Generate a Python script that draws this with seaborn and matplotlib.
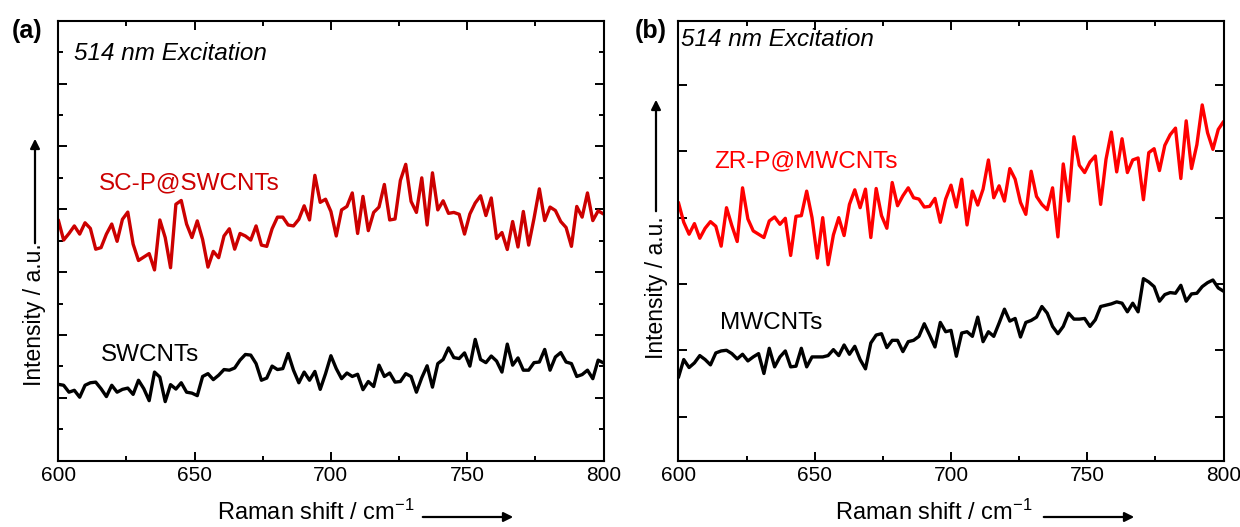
import numpy as np
import pandas as pd
import matplotlib
matplotlib.use("Agg")
import matplotlib.pyplot as plt
import seaborn as sns
from matplotlib.ticker import MultipleLocator

# ---------------- data (intensity in arbitrary tick units) ----------------
sc_p_swcnts = [7.66, 7.02, 7.23, 7.47, 7.21, 7.57, 7.39, 6.73, 6.78, 7.21, 7.53, 6.98, 7.68, 7.91,
               6.89, 6.37, 6.48, 6.59, 6.07, 7.66, 7.10, 6.14, 8.16, 8.28, 7.53, 7.10, 7.63, 7.04,
               6.16, 6.66, 6.46, 7.15, 7.38, 6.73, 7.23, 7.15, 7.02, 7.47, 6.86, 6.82, 7.38, 7.75,
               7.75, 7.50, 7.47, 7.68, 8.11, 7.66, 9.08, 8.22, 8.32, 7.93, 7.15, 7.98, 8.09, 8.52,
               7.23, 8.41, 7.32, 7.90, 8.07, 8.79, 7.66, 7.69, 8.92, 9.43, 8.25, 7.90, 9.00, 7.50,
               9.16, 7.98, 8.27, 7.87, 7.90, 7.84, 7.21, 7.85, 8.20, 8.43, 7.80, 8.36, 7.07, 7.26,
               6.72, 7.61, 6.80, 7.93, 6.86, 7.71, 8.65, 7.64, 8.07, 7.96, 7.61, 7.42, 6.82, 8.09,
               7.75, 8.52, 7.64, 7.95, 7.85]

swcnts = [2.43, 2.40, 2.18, 2.24, 2.02, 2.40, 2.48, 2.50, 2.29, 2.04, 2.40, 2.18, 2.27, 2.31,
          2.11, 2.56, 2.29, 1.91, 2.82, 2.66, 1.88, 2.42, 2.28, 2.48, 2.18, 2.15, 2.07, 2.68,
          2.77, 2.58, 2.72, 2.90, 2.88, 2.95, 3.20, 3.38, 3.36, 3.09, 2.56, 2.63, 3.01, 2.90,
          2.93, 3.41, 2.88, 2.48, 2.82, 2.56, 2.84, 2.27, 2.77, 3.34, 2.93, 2.61, 2.79, 2.68,
          2.75, 2.26, 2.52, 2.36, 3.04, 2.68, 2.79, 2.50, 2.52, 2.77, 2.68, 2.18, 2.64, 3.02,
          2.34, 3.09, 3.22, 3.59, 3.28, 3.25, 3.43, 3.01, 3.86, 3.22, 3.12, 3.33, 3.17, 2.82,
          3.71, 3.04, 3.27, 2.88, 2.88, 3.12, 3.14, 3.54, 2.88, 3.30, 3.44, 3.14, 3.09, 2.68,
          2.74, 2.88, 2.61, 3.20, 3.11]

zr_p_mwcnts = [4.23, 3.93, 3.75, 3.91, 3.69, 3.84, 3.94, 3.87, 3.57, 4.15, 3.88, 3.64, 4.45, 3.98,
               3.80, 3.75, 3.70, 3.95, 4.01, 3.90, 3.99, 3.43, 4.02, 4.03, 4.40, 4.00, 3.39, 4.00,
               3.29, 3.74, 4.00, 3.73, 4.20, 4.42, 4.15, 4.43, 3.70, 4.44, 4.03, 3.84, 4.53, 4.18,
               4.33, 4.45, 4.30, 4.28, 4.16, 4.17, 4.29, 3.93, 4.28, 4.49, 4.16, 4.58, 3.89, 4.40,
               4.19, 4.43, 4.87, 4.30, 4.48, 4.25, 4.74, 4.58, 4.23, 4.05, 4.70, 4.32, 4.20, 4.12,
               4.45, 3.71, 4.81, 4.25, 5.22, 4.79, 4.68, 4.84, 4.93, 4.20, 4.88, 5.29, 4.69, 5.19,
               4.68, 4.87, 4.90, 4.27, 4.98, 5.04, 4.71, 5.09, 5.25, 5.35, 4.59, 5.46, 4.74, 5.10,
               5.70, 5.28, 5.03, 5.33, 5.45]

mwcnts = [1.59, 1.86, 1.74, 1.81, 1.92, 1.86, 1.78, 1.96, 1.99, 2.00, 1.95, 1.87, 1.94, 1.84,
          1.90, 1.95, 1.65, 2.03, 1.75, 1.90, 1.99, 1.75, 1.76, 2.03, 1.75, 1.90, 1.90, 1.90,
          1.92, 2.01, 1.92, 2.08, 1.94, 2.06, 1.86, 1.72, 2.11, 2.23, 2.25, 2.04, 2.15, 2.15,
          1.98, 2.13, 2.15, 2.21, 2.40, 2.23, 2.05, 2.42, 2.28, 2.30, 1.91, 2.26, 2.28, 2.21,
          2.50, 2.13, 2.28, 2.21, 2.41, 2.62, 2.44, 2.48, 2.20, 2.42, 2.45, 2.50, 2.66, 2.56,
          2.36, 2.25, 2.36, 2.56, 2.47, 2.47, 2.48, 2.36, 2.46, 2.66, 2.68, 2.70, 2.73, 2.71,
          2.58, 2.71, 2.58, 3.08, 3.03, 2.96, 2.74, 2.84, 2.87, 2.86, 2.98, 2.74, 2.85, 2.86,
          2.96, 3.02, 3.06, 2.94, 2.89]

x_range = (600, 800)
x_ticks = [600, 650, 700, 750, 800]
labels_a = ["SC-P@SWCNTs", "SWCNTs"]
labels_b = ["ZR-P@MWCNTs", "MWCNTs"]


def frame(values, name):
    return pd.DataFrame({"shift": np.linspace(x_range[0], x_range[1], len(values)),
                         "intensity": values, "sample": name})


df_a = pd.concat([frame(sc_p_swcnts, labels_a[0]), frame(swcnts, labels_a[1])])
df_b = pd.concat([frame(zr_p_mwcnts, labels_b[0]), frame(mwcnts, labels_b[1])])

# ---------------- style ----------------
sns.set_theme(style="ticks")
plt.rcParams["font.family"] = ["Liberation Sans", "DejaVu Sans"]
plt.rcParams["mathtext.fontset"] = "custom"
plt.rcParams["mathtext.rm"] = "Liberation Sans"
plt.rcParams["mathtext.it"] = "Liberation Sans:italic"
plt.rcParams["text.color"] = "black"
plt.rcParams["axes.labelcolor"] = "black"
plt.rcParams["xtick.color"] = "black"
plt.rcParams["ytick.color"] = "black"

W, H = 1240, 527
fig = plt.figure(figsize=(W / 100, H / 100), dpi=100)
fig.patch.set_facecolor("white")

ax_a = fig.add_axes([58.3 / W, (H - 460.7) / H, 545.2 / W, 440 / H])
ax_b = fig.add_axes([678.4 / W, (H - 460.7) / H, 545.2 / W, 440 / H])

sns.lineplot(data=df_a, x="shift", y="intensity", hue="sample",
             palette={labels_a[0]: "#cc0000", labels_a[1]: "black"},
             lw=2.4, legend=False, ax=ax_a, sort=False)
sns.lineplot(data=df_b, x="shift", y="intensity", hue="sample",
             palette={labels_b[0]: "#ff0000", labels_b[1]: "black"},
             lw=2.4, legend=False, ax=ax_b, sort=False)

ax_a.set_ylim(0, 14)
ax_b.set_ylim(0.335, 6.97)

for ax in (ax_a, ax_b):
    ax.set_facecolor("white")
    ax.set_xlim(*x_range)
    ax.set_xticks(x_ticks)
    ax.xaxis.set_minor_locator(MultipleLocator(25))
    for s in ax.spines.values():
        s.set_visible(True)
        s.set_linewidth(1.5)
        s.set_color("black")
    ax.tick_params(which="both", direction="in", top=True, right=True,
                   labelleft=False, width=1.4, color="black")
    ax.tick_params(which="major", length=6.5, labelsize=15, pad=4, labelcolor="black")
    ax.tick_params(which="minor", length=3.5)
    ax.set_xlabel("")
    ax.set_ylabel("")

ax_a.yaxis.set_major_locator(MultipleLocator(2))
ax_a.yaxis.set_minor_locator(MultipleLocator(1))
ax_b.yaxis.set_major_locator(MultipleLocator(1))
ax_b.yaxis.set_minor_locator(plt.NullLocator())


def ftext(px, py, s, **kw):
    fig.text(px / W, 1 - py / H, s, color=kw.pop("color", "black"), **kw)


def farrow(x0, y0, x1, y1):
    fig.add_artist(matplotlib.patches.FancyArrowPatch(
        (x0 / W, 1 - y0 / H), (x1 / W, 1 - y1 / H), transform=fig.transFigure,
        arrowstyle="-|>", mutation_scale=14, lw=1.6, color="black"))


# panel letters
ftext(12, 31, "(a)", fontsize=18, fontweight="bold", va="center", ha="left")
ftext(635, 31, "(b)", fontsize=18, fontweight="bold", va="center", ha="left")

# excitation labels
ftext(74, 53, "514 nm Excitation", fontsize=17.5, style="italic", va="center", ha="left")
ftext(681, 39, "514 nm Excitation", fontsize=17.5, style="italic", va="center", ha="left")

# curve labels
ftext(99, 183, labels_a[0], fontsize=17.5, color="#cc0000", va="center", ha="left")
ftext(101, 355, labels_a[1], fontsize=17.5, color="black", va="center", ha="left")
ftext(714, 161, labels_b[0], fontsize=17.5, color="#ff0000", va="center", ha="left")
ftext(720, 323, labels_b[1], fontsize=17.5, color="black", va="center", ha="left")

# axis labels with arrows
ftext(316, 512, "Raman shift / cm$^{-1}$", fontsize=17, ha="center", va="center")
farrow(420, 517, 516, 517)
ftext(934, 512, "Raman shift / cm$^{-1}$", fontsize=17, ha="center", va="center")
farrow(1041, 517, 1137, 517)

ftext(35, 315, "Intensity / a.u.", fontsize=16.5, rotation=90, ha="center", va="center")
farrow(35, 246, 35, 136)
ftext(656, 288, "Intensity / a.u.", fontsize=16.5, rotation=90, ha="center", va="center")
farrow(656, 214, 656, 97)

fig.savefig("out.png", dpi=100, facecolor="white")
